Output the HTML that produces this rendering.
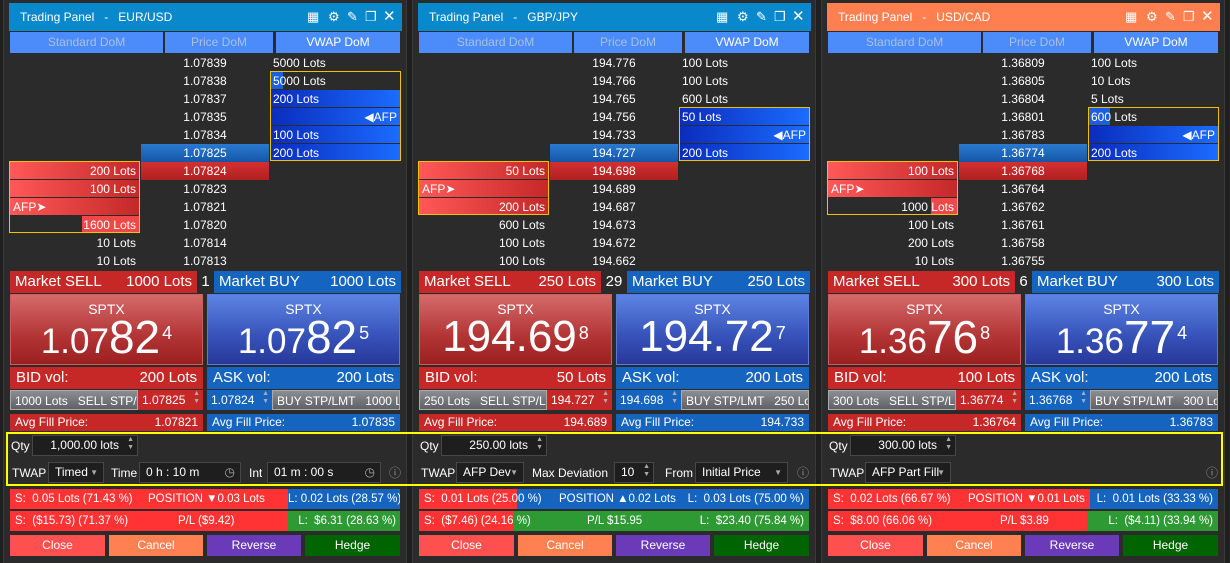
<!DOCTYPE html>
<html><head><meta charset="utf-8">
<style>
*{margin:0;padding:0;box-sizing:border-box}
body{width:1230px;height:563px;background:#1f1f1f;font-family:"Liberation Sans",sans-serif;color:#fff;overflow:hidden;position:relative;font-size:12px}
.frame{position:absolute;top:0;width:404px;height:563px;background:#2b2b2b;border-left:1px solid #3a3a3a;border-right:1px solid #3a3a3a}
.p{position:absolute;top:0;width:393px;height:563px}
.a{position:absolute;white-space:nowrap;overflow:hidden}
.title{top:3px;left:0;width:393px;height:28px;background:#0a88cc;font-size:12px;line-height:28px;padding-left:11px}
.title.o{background:#ff7f50}
.ic{position:absolute;top:0;font-size:13px}
.tab{top:32px;height:21px;background:#4b8bfa;color:#a9c0e6;font-size:12px;line-height:21px;text-align:center}
.tab.on{color:#fff}
.r{height:18px;line-height:18px;font-size:12px}
.pc{left:132px;width:128px;text-align:center}
.sc{left:1px;width:130px;text-align:right;padding-right:4px}
.vc{left:261px;width:130px;padding-left:3px}
.red{background:linear-gradient(90deg,#ff5858,#c42828);height:17px}
.blu{background:linear-gradient(90deg,#0a2cbc,#1b6cff);height:17px}
.box{position:absolute;border:1px solid #f2c200}
.ms{top:271px;height:22px;line-height:22px;font-size:15px;padding:0 5px}
.sp{top:294px;height:71px;border:1px solid #888;text-align:center}
.spr{background:linear-gradient(180deg,#d46a6a,#b33434 60%,#9a2020);border-color:#c86060}
.spb{background:linear-gradient(180deg,#5c84e4,#3652b8 60%,#28389a);border-color:#5a7ad8}
.sptx{position:absolute;top:6px;width:100%;font-size:14px;text-align:center}
.big{position:absolute;top:17px;width:100%;text-align:center;line-height:50px}
.big .s{font-size:35px}.big .l{font-size:46px}.big sup{font-size:18px;vertical-align:top;position:relative;top:-4px;margin-left:2px}
.vol{top:367px;height:22px;line-height:22px;font-size:15px;padding:0 6px}
.stp{top:390px;height:20px;line-height:20px;font-size:12px}
.gray{background:linear-gradient(180deg,#8a8d92,#5e6166);border:1px solid #aaa;padding-left:4px}
.avg{top:414px;height:17px;line-height:17px;font-size:12px;padding:0 5px}
.inp{background:#1e1e1e;border:1px solid #474747;height:21px;line-height:19px;font-size:12px;padding-left:6px}
.lbl{font-size:12px;line-height:20px}
.pos{height:20px;line-height:20px;font-size:11.5px}
.btn{top:535px;height:21px;line-height:21px;text-align:center;font-size:12px}
.spin{position:absolute;right:3px;top:0;font-size:7px;line-height:8px;color:#aaa}
</style></head><body>

<div class="frame" style="left:3px"></div>
<div class="frame" style="left:412px"></div>
<div class="frame" style="left:821px"></div>

<!-- PANEL 1 -->
<div class="p" style="left:9px">
<div class="a title">Trading Panel &nbsp;&nbsp;- &nbsp;&nbsp;EUR/USD<span class="ic" style="left:298px">▦</span><span class="ic" style="left:319px">⚙</span><span class="ic" style="left:338px">✎</span><span class="ic" style="left:356px">❐</span><span class="ic" style="left:374px;font-size:15px">✕</span></div>
<div class="a tab" style="left:1px;width:153px">Standard DoM</div>
<div class="a tab" style="left:156px;width:108px">Price DoM</div>
<div class="a tab on" style="left:267px;width:124px">VWAP DoM</div>

<div class="a r pc" style="top:54px">1.07839</div>
<div class="a r pc" style="top:72px">1.07838</div>
<div class="a r pc" style="top:90px">1.07837</div>
<div class="a r pc" style="top:108px">1.07835</div>
<div class="a r pc" style="top:126px">1.07834</div>
<div class="a r pc" style="top:144px;background:linear-gradient(180deg,#2a7ad0,#1456a8)">1.07825</div>
<div class="a r pc" style="top:162px;background:linear-gradient(180deg,#d43030,#b02020)">1.07824</div>
<div class="a r pc" style="top:180px">1.07823</div>
<div class="a r pc" style="top:198px">1.07821</div>
<div class="a r pc" style="top:216px">1.07820</div>
<div class="a r pc" style="top:234px">1.07814</div>
<div class="a r pc" style="top:252px">1.07813</div>

<div class="a r sc red" style="top:162px">200 Lots</div>
<div class="a r sc red" style="top:180px">100 Lots</div>
<div class="a r sc red" style="top:198px;text-align:left;padding-left:3px">AFP➤</div>
<div class="a" style="top:216px;left:73px;width:58px;height:17px;background:#f04848"></div>
<div class="a r sc" style="top:216px">1600 Lots</div>
<div class="a r sc" style="top:234px">10 Lots</div>
<div class="a r sc" style="top:252px">10 Lots</div>
<div class="box" style="left:0;top:161px;width:131px;height:72px"></div>

<div class="a r vc" style="top:54px">5000 Lots</div>
<div class="a" style="top:72px;left:261px;width:13px;height:17px;background:#1b5ee0"></div>
<div class="a r vc" style="top:72px">5000 Lots</div>
<div class="a r vc blu" style="top:90px">200 Lots</div>
<div class="a r vc blu" style="top:108px;text-align:right;padding-right:3px">◀AFP</div>
<div class="a r vc blu" style="top:126px">100 Lots</div>
<div class="a r vc blu" style="top:144px">200 Lots</div>
<div class="box" style="left:261px;top:71px;width:131px;height:90px"></div>

<div class="a ms" style="left:1px;width:187px;background:#c62828">Market SELL<span style="position:absolute;right:5px">1000 Lots</span></div>
<div class="a ms" style="left:188px;width:17px;padding:0;text-align:center">1</div>
<div class="a ms" style="left:205px;width:187px;background:#1565c0">Market BUY<span style="position:absolute;right:5px">1000 Lots</span></div>

<div class="a sp spr" style="left:1px;width:193px"><div class="sptx">SPTX</div><div class="big"><span class="s">1.07</span><span class="l">82</span><sup>4</sup></div></div>
<div class="a sp spb" style="left:198px;width:193px"><div class="sptx">SPTX</div><div class="big"><span class="s">1.07</span><span class="l">82</span><sup>5</sup></div></div>

<div class="a vol" style="left:1px;width:193px;background:#c62828">BID vol:<span style="position:absolute;right:6px">200 Lots</span></div>
<div class="a vol" style="left:198px;width:193px;background:#1565c0">ASK vol:<span style="position:absolute;right:6px">200 Lots</span></div>

<div class="a stp gray" style="left:1px;width:128px">1000 Lots &nbsp;&nbsp;SELL STP/LMT</div>
<div class="a stp" style="left:129px;width:65px;background:#c62828;padding-left:4px">1.07825<span class="spin">▲<br>▼</span></div>
<div class="a stp" style="left:198px;width:65px;background:#1565c0;padding-left:4px">1.07824<span class="spin">▲<br>▼</span></div>
<div class="a stp gray" style="left:263px;width:128px">BUY STP/LMT &nbsp;&nbsp;1000 Lots</div>

<div class="a avg" style="left:1px;width:193px;background:#c62828">Avg Fill Price:<span style="position:absolute;right:5px">1.07821</span></div>
<div class="a avg" style="left:198px;width:193px;background:#1565c0">Avg Fill Price:<span style="position:absolute;right:5px">1.07835</span></div>

<div class="a lbl" style="left:2px;top:436px">Qty</div>
<div class="a inp" style="left:23px;top:435px;width:106px;text-align:right;padding-right:18px">1,000.00 lots<span class="spin">▲<br>▼</span></div>
<div class="a lbl" style="left:3px;top:463px">TWAP</div>
<div class="a inp" style="left:39px;top:462px;width:56px">Timed <span style="position:absolute;right:5px;font-size:8px;color:#aaa">▼</span></div>
<div class="a lbl" style="left:102px;top:463px">Time</div>
<div class="a inp" style="left:130px;top:462px;width:102px">0 h : 10 m<span style="position:absolute;right:5px;color:#aaa">◷</span></div>
<div class="a lbl" style="left:240px;top:463px">Int</div>
<div class="a inp" style="left:258px;top:462px;width:114px">01 m : 00 s<span style="position:absolute;right:5px;color:#aaa">◷</span></div>
<div class="a lbl" style="left:380px;top:463px;color:#999">ⓘ</div>

<div class="a pos" style="left:1px;top:489px;width:278px;background:#ff3333;padding-left:5px">S: &nbsp;0.05 Lots (71.43 %)<span style="position:absolute;left:138px">POSITION ▼0.03 Lots</span></div>
<div class="a pos" style="left:279px;top:489px;width:112px;background:#1565c0;text-align:right;padding-right:3px">L: 0.02 Lots (28.57 %)</div>
<div class="a pos" style="left:1px;top:511px;width:278px;background:#ff3333;padding-left:5px">S: &nbsp;($15.73) (71.37 %)<span style="position:absolute;left:168px">P/L ($9.42)</span></div>
<div class="a pos" style="left:279px;top:511px;width:112px;background:#2e9a33;text-align:right;padding-right:4px">L: &nbsp;$6.31 (28.63 %)</div>

<div class="a btn" style="left:1px;width:95px;background:#ff5050">Close</div>
<div class="a btn" style="left:100px;width:94px;background:#ff8050">Cancel</div>
<div class="a btn" style="left:198px;width:94px;background:#6a3ab8">Reverse</div>
<div class="a btn" style="left:296px;width:95px;background:#006400">Hedge</div>
</div>

<!-- PANEL 2 -->
<div class="p" style="left:418px">
<div class="a title">Trading Panel &nbsp;&nbsp;- &nbsp;&nbsp;GBP/JPY<span class="ic" style="left:298px">▦</span><span class="ic" style="left:319px">⚙</span><span class="ic" style="left:338px">✎</span><span class="ic" style="left:356px">❐</span><span class="ic" style="left:374px;font-size:15px">✕</span></div>
<div class="a tab" style="left:1px;width:153px">Standard DoM</div>
<div class="a tab" style="left:156px;width:108px">Price DoM</div>
<div class="a tab on" style="left:267px;width:124px">VWAP DoM</div>

<div class="a r pc" style="top:54px">194.776</div>
<div class="a r pc" style="top:72px">194.766</div>
<div class="a r pc" style="top:90px">194.765</div>
<div class="a r pc" style="top:108px">194.756</div>
<div class="a r pc" style="top:126px">194.733</div>
<div class="a r pc" style="top:144px;background:linear-gradient(180deg,#2a7ad0,#1456a8)">194.727</div>
<div class="a r pc" style="top:162px;background:linear-gradient(180deg,#d43030,#b02020)">194.698</div>
<div class="a r pc" style="top:180px">194.689</div>
<div class="a r pc" style="top:198px">194.687</div>
<div class="a r pc" style="top:216px">194.673</div>
<div class="a r pc" style="top:234px">194.672</div>
<div class="a r pc" style="top:252px">194.662</div>

<div class="a r sc red" style="top:162px">50 Lots</div>
<div class="a r sc red" style="top:180px;text-align:left;padding-left:3px">AFP➤</div>
<div class="a r sc red" style="top:198px">200 Lots</div>
<div class="a r sc" style="top:216px">600 Lots</div>
<div class="a r sc" style="top:234px">100 Lots</div>
<div class="a r sc" style="top:252px">100 Lots</div>
<div class="box" style="left:0;top:161px;width:131px;height:54px"></div>

<div class="a r vc" style="top:54px">100 Lots</div>
<div class="a r vc" style="top:72px">100 Lots</div>
<div class="a r vc" style="top:90px">600 Lots</div>
<div class="a r vc blu" style="top:108px">50 Lots</div>
<div class="a r vc blu" style="top:126px;text-align:right;padding-right:3px">◀AFP</div>
<div class="a r vc blu" style="top:144px">200 Lots</div>
<div class="box" style="left:261px;top:107px;width:131px;height:54px"></div>

<div class="a ms" style="left:1px;width:182px;background:#c62828">Market SELL<span style="position:absolute;right:5px">250 Lots</span></div>
<div class="a ms" style="left:183px;width:26px;padding:0;text-align:center">29</div>
<div class="a ms" style="left:209px;width:183px;background:#1565c0">Market BUY<span style="position:absolute;right:5px">250 Lots</span></div>

<div class="a sp spr" style="left:1px;width:193px"><div class="sptx">SPTX</div><div class="big"><span class="s" style="font-size:44px">194.69</span><sup>8</sup></div></div>
<div class="a sp spb" style="left:198px;width:193px"><div class="sptx">SPTX</div><div class="big"><span class="s" style="font-size:44px">194.72</span><sup>7</sup></div></div>

<div class="a vol" style="left:1px;width:193px;background:#c62828">BID vol:<span style="position:absolute;right:6px">50 Lots</span></div>
<div class="a vol" style="left:198px;width:193px;background:#1565c0">ASK vol:<span style="position:absolute;right:6px">200 Lots</span></div>

<div class="a stp gray" style="left:1px;width:128px">250 Lots &nbsp;&nbsp;SELL STP/LMT</div>
<div class="a stp" style="left:129px;width:65px;background:#c62828;padding-left:4px">194.727<span class="spin">▲<br>▼</span></div>
<div class="a stp" style="left:198px;width:65px;background:#1565c0;padding-left:4px">194.698<span class="spin">▲<br>▼</span></div>
<div class="a stp gray" style="left:263px;width:128px">BUY STP/LMT &nbsp;&nbsp;250 Lots</div>

<div class="a avg" style="left:1px;width:193px;background:#c62828">Avg Fill Price:<span style="position:absolute;right:5px">194.689</span></div>
<div class="a avg" style="left:198px;width:193px;background:#1565c0">Avg Fill Price:<span style="position:absolute;right:5px">194.733</span></div>

<div class="a lbl" style="left:2px;top:436px">Qty</div>
<div class="a inp" style="left:23px;top:435px;width:106px;text-align:right;padding-right:18px">250.00 lots<span class="spin">▲<br>▼</span></div>
<div class="a lbl" style="left:3px;top:463px">TWAP</div>
<div class="a inp" style="left:38px;top:462px;width:68px">AFP Dev <span style="position:absolute;right:5px;font-size:8px;color:#aaa">▼</span></div>
<div class="a lbl" style="left:114px;top:463px">Max Deviation</div>
<div class="a inp" style="left:196px;top:462px;width:40px">10<span class="spin">▲<br>▼</span></div>
<div class="a lbl" style="left:247px;top:463px">From</div>
<div class="a inp" style="left:277px;top:462px;width:93px">Initial Price <span style="position:absolute;right:5px;font-size:8px;color:#aaa">▼</span></div>
<div class="a lbl" style="left:379px;top:463px;color:#999">ⓘ</div>

<div class="a pos" style="left:1px;top:489px;width:98px;background:#ff3333"></div>
<div class="a pos" style="left:99px;top:489px;width:292px;background:#1565c0"></div>
<div class="a pos" style="left:1px;top:489px;width:390px;padding-left:5px">S: &nbsp;0.01 Lots (25.00 %)<span style="position:absolute;left:140px">POSITION ▲0.02 Lots</span><span style="position:absolute;right:5px">L: &nbsp;0.03 Lots (75.00 %)</span></div>
<div class="a pos" style="left:1px;top:511px;width:94px;background:#ff3333"></div>
<div class="a pos" style="left:95px;top:511px;width:296px;background:#2e9a33"></div>
<div class="a pos" style="left:1px;top:511px;width:390px;padding-left:5px">S: &nbsp;($7.46) (24.16 %)<span style="position:absolute;left:168px">P/L $15.95</span><span style="position:absolute;right:5px">L: &nbsp;$23.40 (75.84 %)</span></div>

<div class="a btn" style="left:1px;width:95px;background:#ff5050">Close</div>
<div class="a btn" style="left:100px;width:94px;background:#ff8050">Cancel</div>
<div class="a btn" style="left:198px;width:94px;background:#6a3ab8">Reverse</div>
<div class="a btn" style="left:296px;width:95px;background:#006400">Hedge</div>
</div>

<!-- PANEL 3 -->
<div class="p" style="left:827px">
<div class="a title o">Trading Panel &nbsp;&nbsp;- &nbsp;&nbsp;USD/CAD<span class="ic" style="left:298px">▦</span><span class="ic" style="left:319px">⚙</span><span class="ic" style="left:338px">✎</span><span class="ic" style="left:356px">❐</span><span class="ic" style="left:374px;font-size:15px">✕</span></div>
<div class="a tab" style="left:1px;width:153px">Standard DoM</div>
<div class="a tab" style="left:156px;width:108px">Price DoM</div>
<div class="a tab on" style="left:267px;width:124px">VWAP DoM</div>

<div class="a r pc" style="top:54px">1.36809</div>
<div class="a r pc" style="top:72px">1.36805</div>
<div class="a r pc" style="top:90px">1.36804</div>
<div class="a r pc" style="top:108px">1.36801</div>
<div class="a r pc" style="top:126px">1.36783</div>
<div class="a r pc" style="top:144px;background:linear-gradient(180deg,#2a7ad0,#1456a8)">1.36774</div>
<div class="a r pc" style="top:162px;background:linear-gradient(180deg,#d43030,#b02020)">1.36768</div>
<div class="a r pc" style="top:180px">1.36764</div>
<div class="a r pc" style="top:198px">1.36762</div>
<div class="a r pc" style="top:216px">1.36761</div>
<div class="a r pc" style="top:234px">1.36758</div>
<div class="a r pc" style="top:252px">1.36755</div>

<div class="a r sc red" style="top:162px">100 Lots</div>
<div class="a r sc red" style="top:180px;text-align:left;padding-left:3px">AFP➤</div>
<div class="a" style="top:198px;left:104px;width:27px;height:17px;background:#f04848"></div>
<div class="a r sc" style="top:198px">1000 Lots</div>
<div class="a r sc" style="top:216px">100 Lots</div>
<div class="a r sc" style="top:234px">200 Lots</div>
<div class="a r sc" style="top:252px">10 Lots</div>
<div class="box" style="left:0;top:161px;width:131px;height:54px"></div>

<div class="a r vc" style="top:54px">100 Lots</div>
<div class="a r vc" style="top:72px">10 Lots</div>
<div class="a r vc" style="top:90px">5 Lots</div>
<div class="a" style="top:108px;left:261px;width:22px;height:17px;background:#1b5ee0"></div>
<div class="a r vc" style="top:108px">600 Lots</div>
<div class="a r vc blu" style="top:126px;text-align:right;padding-right:3px">◀AFP</div>
<div class="a r vc blu" style="top:144px">200 Lots</div>
<div class="box" style="left:261px;top:107px;width:131px;height:54px"></div>

<div class="a ms" style="left:1px;width:187px;background:#c62828">Market SELL<span style="position:absolute;right:5px">300 Lots</span></div>
<div class="a ms" style="left:188px;width:17px;padding:0;text-align:center">6</div>
<div class="a ms" style="left:205px;width:187px;background:#1565c0">Market BUY<span style="position:absolute;right:5px">300 Lots</span></div>

<div class="a sp spr" style="left:1px;width:193px"><div class="sptx">SPTX</div><div class="big"><span class="s">1.36</span><span class="l">76</span><sup>8</sup></div></div>
<div class="a sp spb" style="left:198px;width:193px"><div class="sptx">SPTX</div><div class="big"><span class="s">1.36</span><span class="l">77</span><sup>4</sup></div></div>

<div class="a vol" style="left:1px;width:193px;background:#c62828">BID vol:<span style="position:absolute;right:6px">100 Lots</span></div>
<div class="a vol" style="left:198px;width:193px;background:#1565c0">ASK vol:<span style="position:absolute;right:6px">200 Lots</span></div>

<div class="a stp gray" style="left:1px;width:128px">300 Lots &nbsp;&nbsp;SELL STP/LMT</div>
<div class="a stp" style="left:129px;width:65px;background:#c62828;padding-left:4px">1.36774<span class="spin">▲<br>▼</span></div>
<div class="a stp" style="left:198px;width:65px;background:#1565c0;padding-left:4px">1.36768<span class="spin">▲<br>▼</span></div>
<div class="a stp gray" style="left:263px;width:128px">BUY STP/LMT &nbsp;&nbsp;300 Lots</div>

<div class="a avg" style="left:1px;width:193px;background:#c62828">Avg Fill Price:<span style="position:absolute;right:5px">1.36764</span></div>
<div class="a avg" style="left:198px;width:193px;background:#1565c0">Avg Fill Price:<span style="position:absolute;right:5px">1.36783</span></div>

<div class="a lbl" style="left:2px;top:436px">Qty</div>
<div class="a inp" style="left:23px;top:435px;width:106px;text-align:right;padding-right:18px">300.00 lots<span class="spin">▲<br>▼</span></div>
<div class="a lbl" style="left:3px;top:463px">TWAP</div>
<div class="a inp" style="left:38px;top:462px;width:86px">AFP Part Fill <span style="position:absolute;right:5px;font-size:8px;color:#aaa">▼</span></div>
<div class="a lbl" style="left:379px;top:463px;color:#999">ⓘ</div>

<div class="a pos" style="left:1px;top:489px;width:262px;background:#ff3333;padding-left:5px">S: &nbsp;0.02 Lots (66.67 %)<span style="position:absolute;left:140px">POSITION ▼0.01 Lots</span></div>
<div class="a pos" style="left:263px;top:489px;width:128px;background:#1565c0;text-align:right;padding-right:5px">L: &nbsp;0.01 Lots (33.33 %)</div>
<div class="a pos" style="left:1px;top:511px;width:259px;background:#ff3333;padding-left:5px">S: &nbsp;$8.00 (66.06 %)<span style="position:absolute;left:172px">P/L $3.89</span></div>
<div class="a pos" style="left:260px;top:511px;width:131px;background:#2e9a33;text-align:right;padding-right:5px">L: &nbsp;($4.11) (33.94 %)</div>

<div class="a btn" style="left:1px;width:95px;background:#ff5050">Close</div>
<div class="a btn" style="left:100px;width:94px;background:#ff8050">Cancel</div>
<div class="a btn" style="left:198px;width:94px;background:#6a3ab8">Reverse</div>
<div class="a btn" style="left:296px;width:95px;background:#006400">Hedge</div>
</div>

<div style="position:absolute;left:6px;top:432px;width:1217px;height:54px;border:2px solid #ffff00"></div>
</body></html>
